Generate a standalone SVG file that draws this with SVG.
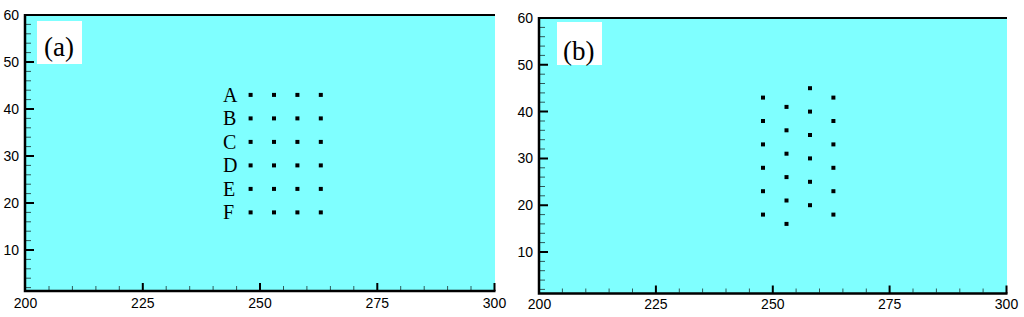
<svg xmlns="http://www.w3.org/2000/svg" xmlns:xlink="http://www.w3.org/1999/xlink" width="1024" height="317" viewBox="0 0 1024 317">
<style>
.plot{fill:#7fffff;}
.axis{stroke:#000;stroke-width:2.5;fill:none;}
.top{stroke:#000;stroke-width:2;fill:none;}
.major{stroke:#000;stroke-width:2;}
.minor{stroke:#2f5a5a;stroke-width:1;}
.tl{font-family:"Liberation Sans",Arial,sans-serif;font-size:14px;fill:#000;}
.ty{text-anchor:end;}
.tx{text-anchor:middle;}
.pl{font-family:"Liberation Serif","Times New Roman",serif;font-size:27px;fill:#000;}
.row{font-family:"Liberation Serif","Times New Roman",serif;font-size:20px;fill:#000;}
.box{fill:#fff;}
</style>
<defs>
<rect id="dot" x="-2" y="-2" width="4" height="4" fill="#000"/>
</defs>
<rect width="1024" height="317" fill="#fff"/>

<g id="panel-a">
<rect class="plot" x="25" y="15" width="470" height="276"/>
<g id="a-minor-y">
<path class="minor" d="M26 287.6h5M26 278.2h5M26 268.8h5M26 259.4h5M26 240.6h5M26 231.2h5M26 221.8h5M26 212.4h5M26 193.6h5M26 184.2h5M26 174.8h5M26 165.4h5M26 146.6h5M26 137.2h5M26 127.8h5M26 118.4h5M26 99.6h5M26 90.2h5M26 80.8h5M26 71.4h5M26 52.6h5M26 43.2h5M26 33.8h5M26 24.4h5"/>
</g>
<g id="a-minor-x">
<path class="minor" d="M49 290v-4M72.4 290v-4M95.9 290v-4M119.3 290v-4M166.2 290v-4M189.7 290v-4M213.1 290v-4M236.6 290v-4M283.5 290v-4M306.9 290v-4M330.4 290v-4M353.8 290v-4M400.7 290v-4M424.2 290v-4M447.6 290v-4M471 290v-4"/>
</g>
<path class="major" d="M25 250h9M25 203h9M25 156h9M25 109h9M25 62h9M142.8 291v-8M260 291v-8M377.3 291v-8M494.5 291v-8"/>
<path class="top" d="M25 15H495"/>
<path class="axis" d="M25 14V291H495.5"/>
<g class="tl ty">
<text x="19" y="20">60</text>
<text x="19" y="67">50</text>
<text x="19" y="114">40</text>
<text x="19" y="161">30</text>
<text x="19" y="208">20</text>
<text x="19" y="255">10</text>
</g>
<g class="tl tx">
<text x="25.5" y="308">200</text>
<text x="142.8" y="308">225</text>
<text x="260" y="308">250</text>
<text x="377.3" y="308">275</text>
<text x="494.5" y="308">300</text>
</g>
<rect class="box" x="37" y="21" width="45" height="43"/>
<text class="pl" x="44" y="56">(a)</text>
<g id="a-rows" class="row">
<text x="223" y="101.6">A</text>
<text x="223" y="125.1">B</text>
<text x="223" y="148.6">C</text>
<text x="223" y="172.1">D</text>
<text x="223" y="195.6">E</text>
<text x="223" y="219.1">F</text>
</g>
<g id="a-dots">
<use xlink:href="#dot" x="250.6" y="94.9"/><use xlink:href="#dot" x="274" y="94.9"/><use xlink:href="#dot" x="297.4" y="94.9"/><use xlink:href="#dot" x="320.8" y="94.9"/>
<use xlink:href="#dot" x="250.6" y="118.4"/><use xlink:href="#dot" x="274" y="118.4"/><use xlink:href="#dot" x="297.4" y="118.4"/><use xlink:href="#dot" x="320.8" y="118.4"/>
<use xlink:href="#dot" x="250.6" y="141.9"/><use xlink:href="#dot" x="274" y="141.9"/><use xlink:href="#dot" x="297.4" y="141.9"/><use xlink:href="#dot" x="320.8" y="141.9"/>
<use xlink:href="#dot" x="250.6" y="165.4"/><use xlink:href="#dot" x="274" y="165.4"/><use xlink:href="#dot" x="297.4" y="165.4"/><use xlink:href="#dot" x="320.8" y="165.4"/>
<use xlink:href="#dot" x="250.6" y="188.9"/><use xlink:href="#dot" x="274" y="188.9"/><use xlink:href="#dot" x="297.4" y="188.9"/><use xlink:href="#dot" x="320.8" y="188.9"/>
<use xlink:href="#dot" x="250.6" y="212.4"/><use xlink:href="#dot" x="274" y="212.4"/><use xlink:href="#dot" x="297.4" y="212.4"/><use xlink:href="#dot" x="320.8" y="212.4"/>
</g>
</g>

<g id="panel-b">
<rect class="plot" x="539" y="18" width="468" height="275.5"/>
<g id="b-minor-y">
<path class="minor" d="M540 289.4h5M540 280.1h5M540 270.7h5M540 261.4h5M540 242.6h5M540 233.3h5M540 223.9h5M540 214.6h5M540 195.8h5M540 186.5h5M540 177.1h5M540 167.8h5M540 149h5M540 139.7h5M540 130.3h5M540 121h5M540 102.2h5M540 92.9h5M540 83.5h5M540 74.2h5M540 55.4h5M540 46.1h5M540 36.7h5M540 27.4h5"/>
</g>
<g id="b-minor-x">
<path class="minor" d="M562.4 292.5v-4M585.8 292.5v-4M609.1 292.5v-4M632.5 292.5v-4M679.3 292.5v-4M702.6 292.5v-4M726 292.5v-4M749.4 292.5v-4M796.1 292.5v-4M819.5 292.5v-4M842.9 292.5v-4M866.3 292.5v-4M913 292.5v-4M936.4 292.5v-4M959.8 292.5v-4M983.1 292.5v-4"/>
</g>
<path class="major" d="M539 252h9M539 205.2h9M539 158.4h9M539 111.6h9M539 64.8h9M655.9 293.5v-8M772.8 293.5v-8M889.6 293.5v-8M1006.5 293.5v-8"/>
<path class="top" d="M539 18H1007"/>
<path class="axis" d="M539 17V293.5H1007.5"/>
<g class="tl ty">
<text x="533" y="23">60</text>
<text x="533" y="69.8">50</text>
<text x="533" y="116.6">40</text>
<text x="533" y="163.4">30</text>
<text x="533" y="210.2">20</text>
<text x="533" y="257">10</text>
</g>
<g class="tl tx">
<text x="539.5" y="309">200</text>
<text x="655.9" y="309">225</text>
<text x="772.8" y="309">250</text>
<text x="889.6" y="309">275</text>
<text x="1006.5" y="309">300</text>
</g>
<rect class="box" x="557" y="22" width="45" height="43"/>
<text class="pl" x="563" y="59.5">(b)</text>
<g id="b-dots">
<use xlink:href="#dot" x="763" y="97.6"/><use xlink:href="#dot" x="763" y="121"/><use xlink:href="#dot" x="763" y="144.4"/><use xlink:href="#dot" x="763" y="167.8"/><use xlink:href="#dot" x="763" y="191.2"/><use xlink:href="#dot" x="763" y="214.6"/>
<use xlink:href="#dot" x="786.5" y="106.9"/><use xlink:href="#dot" x="786.5" y="130.3"/><use xlink:href="#dot" x="786.5" y="153.7"/><use xlink:href="#dot" x="786.5" y="177.1"/><use xlink:href="#dot" x="786.5" y="200.5"/><use xlink:href="#dot" x="786.5" y="223.9"/>
<use xlink:href="#dot" x="810" y="88.2"/><use xlink:href="#dot" x="810" y="111.6"/><use xlink:href="#dot" x="810" y="135"/><use xlink:href="#dot" x="810" y="158.4"/><use xlink:href="#dot" x="810" y="181.8"/><use xlink:href="#dot" x="810" y="205.2"/>
<use xlink:href="#dot" x="833.4" y="97.6"/><use xlink:href="#dot" x="833.4" y="121"/><use xlink:href="#dot" x="833.4" y="144.4"/><use xlink:href="#dot" x="833.4" y="167.8"/><use xlink:href="#dot" x="833.4" y="191.2"/><use xlink:href="#dot" x="833.4" y="214.6"/>
</g>
</g>
</svg>
